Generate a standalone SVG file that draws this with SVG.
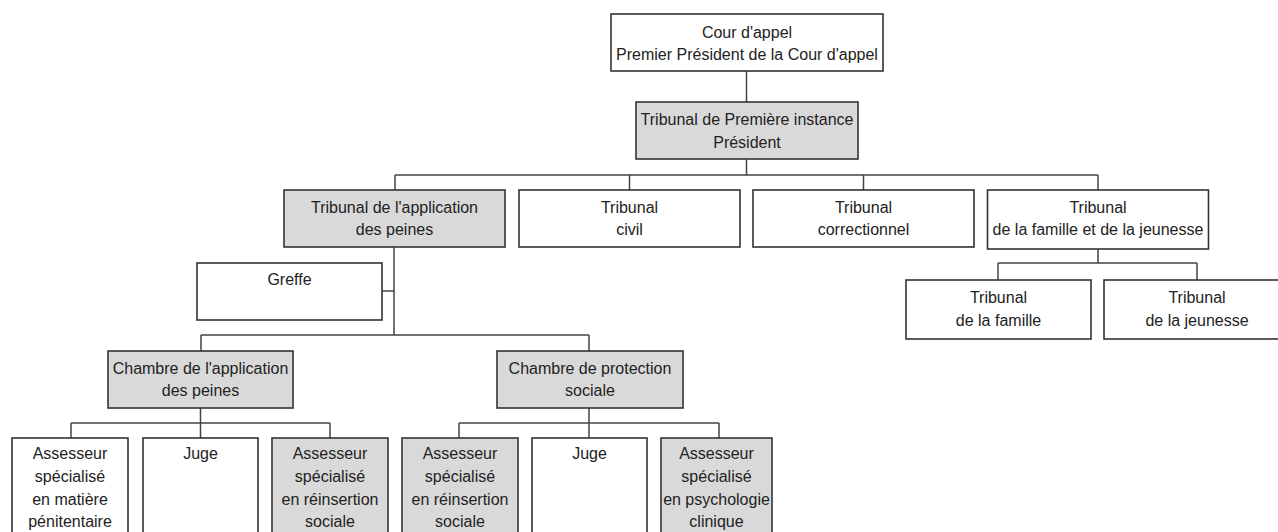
<svg xmlns="http://www.w3.org/2000/svg" width="1278" height="532" viewBox="0 0 1278 532">
<style>
.b{fill:#fff;stroke:#333;stroke-width:1.6}
.g{fill:#d9d9d9;stroke:#333;stroke-width:1.6}
text{font-family:"Liberation Sans",Arial,sans-serif;font-size:16px;fill:#222;text-anchor:middle}
#connectors path{fill:none;stroke:#444;stroke-width:1.5}
</style>
<rect width="1278" height="532" fill="#fff"/>
<g id="connectors">
<path d="M746.5 71V102"/>
<path d="M746.5 159V175M395 175H1098M395 175V190M629.5 175V190M863.5 175V190M1098 175V190"/>
<path d="M394 247V335M382 291H394M201 335H589M201 335V351M589 335V351"/>
<path d="M200.5 408V423M71 423H330M71 423V438M200.5 423V438M330 423V438"/>
<path d="M589 408V423M459 423H719M459 423V438M589 423V438M719 423V438"/>
<path d="M1098 249V263M998 263H1197M998 263V280M1197 263V280"/>
</g>
<g id="cour"><rect class="b" x="611" y="14" width="272" height="57"/><text x="747" y="38">Cour d'appel</text><text x="747" y="60">Premier Président de la Cour d'appel</text></g>
<g id="tpi"><rect class="g" x="636" y="102" width="222" height="57"/><text x="747" y="125">Tribunal de Première instance</text><text x="747" y="148">Président</text></g>
<g id="tap"><rect class="g" x="284" y="190" width="221" height="57"/><text x="394.5" y="213">Tribunal de l'application</text><text x="394.5" y="235">des peines</text></g>
<g id="civil"><rect class="b" x="519" y="190" width="221" height="57"/><text x="629.5" y="213">Tribunal</text><text x="629.5" y="235">civil</text></g>
<g id="correctionnel"><rect class="b" x="753" y="190" width="221" height="57"/><text x="863.5" y="213">Tribunal</text><text x="863.5" y="235">correctionnel</text></g>
<g id="tfj"><rect class="b" x="987.5" y="190" width="221" height="59"/><text x="1098" y="213">Tribunal</text><text x="1098" y="235">de la famille et de la jeunesse</text></g>
<g id="famille"><rect class="b" x="906" y="280" width="185" height="59"/><text x="998.5" y="303">Tribunal</text><text x="998.5" y="326">de la famille</text></g>
<g id="jeunesse"><rect class="b" x="1104" y="280" width="186" height="59"/><text x="1197" y="303">Tribunal</text><text x="1197" y="326">de la jeunesse</text></g>
<g id="greffe"><rect class="b" x="197" y="263" width="185" height="57"/><text x="289.5" y="285">Greffe</text></g>
<g id="cap"><rect class="g" x="108" y="351" width="185" height="57"/><text x="200.5" y="374">Chambre de l'application</text><text x="200.5" y="396">des peines</text></g>
<g id="cps"><rect class="g" x="497" y="351" width="186" height="57"/><text x="590" y="374">Chambre de protection</text><text x="590" y="396">sociale</text></g>
<g id="a1"><rect class="b" x="12" y="438" width="116" height="110"/><text x="70" y="459">Assesseur</text><text x="70" y="482">spécialisé</text><text x="70" y="505">en matière</text><text x="70" y="527">pénitentaire</text></g>
<g id="juge1"><rect class="b" x="143" y="438" width="115" height="110"/><text x="200.5" y="459">Juge</text></g>
<g id="a2"><rect class="g" x="272" y="438" width="116" height="110"/><text x="330" y="459">Assesseur</text><text x="330" y="482">spécialisé</text><text x="330" y="505">en réinsertion</text><text x="330" y="527">sociale</text></g>
<g id="a3"><rect class="g" x="402" y="438" width="116" height="110"/><text x="460" y="459">Assesseur</text><text x="460" y="482">spécialisé</text><text x="460" y="505">en réinsertion</text><text x="460" y="527">sociale</text></g>
<g id="juge2"><rect class="b" x="532" y="438" width="115" height="110"/><text x="589.5" y="459">Juge</text></g>
<g id="a4"><rect class="g" x="661" y="438" width="111" height="110"/><text x="716.5" y="459">Assesseur</text><text x="716.5" y="482">spécialisé</text><text x="716.5" y="505">en psychologie</text><text x="716.5" y="527">clinique</text></g>
</svg>
